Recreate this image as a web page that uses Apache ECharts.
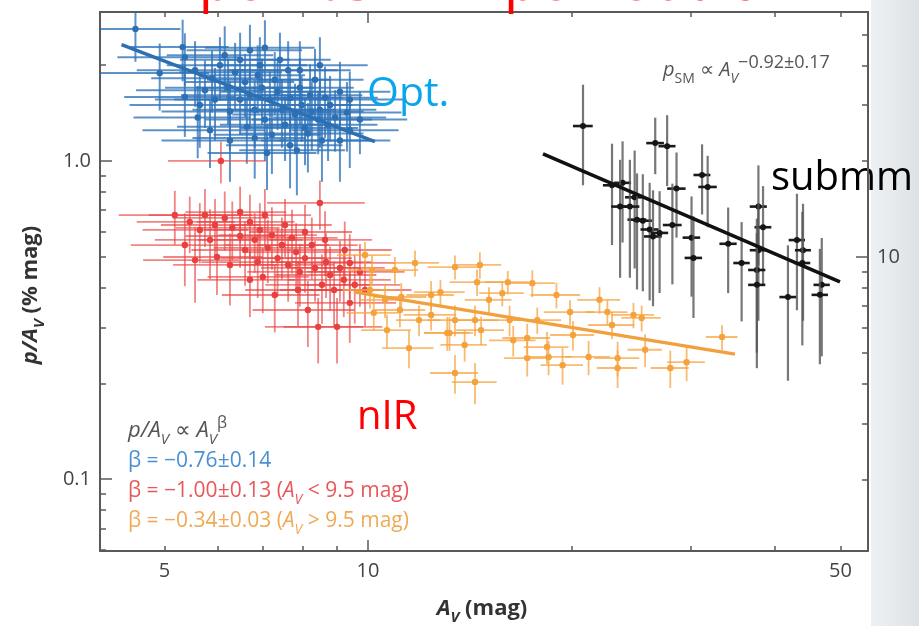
<!DOCTYPE html>
<html><head><meta charset="utf-8">
<script src="https://cdn.jsdelivr.net/npm/echarts@6/dist/echarts.min.js"></script>
<style>html,body{margin:0;padding:0;background:#fff}#c{width:919px;height:626px}</style>
</head><body><div id="c"></div>
<script>
// ---- axis ticks / labels ----
const xMajorTicks = [10];
const xMinorTicks = [5, 6, 7, 8, 9, 20, 30, 40, 50];
const xTickLabels = [5, 10, 50];
const yMajorTicks = [0.1, 1];
const yMinorTicks = [0.06, 0.07, 0.08, 0.09, 0.2, 0.3, 0.4, 0.5, 0.6, 0.7, 0.8, 0.9, 2];
const yTickLabels = [0.1, 1];
const y2MajorTicks = [10];
const y2MinorTicks = [2, 3, 4, 5, 6, 7, 8, 9, 20, 30, 40, 50];
const y2TickLabels = [10];

// ---- data: [A_V, value, errA_V, errValue] ----
const optPoints = [
[4.53,2.60,0.75,0.55],[5.32,2.28,0.9,0.5],[5.36,2.12,1.1,0.4],[4.92,1.89,0.9,0.45],[5.36,1.59,1.0,0.4],
[5.60,1.37,1.1,0.35],[5.88,1.82,1.1,0.4],[6.04,2.00,1.0,0.45],[6.21,1.70,1.2,0.4],[6.36,1.90,1.1,0.45],
[6.47,1.56,1.3,0.35],[6.58,1.77,1.2,0.4],[6.69,1.61,1.4,0.35],[6.80,1.45,1.3,0.35],[6.87,1.86,1.2,0.45],
[6.97,1.70,1.4,0.4],[7.04,1.35,1.3,0.35],[7.16,1.56,1.4,0.35],[7.21,1.21,1.3,0.3],[7.28,1.80,1.5,0.4],
[7.35,1.65,1.3,0.4],[7.46,1.45,1.5,0.35],[7.54,1.30,1.5,0.3],[7.62,1.93,1.4,0.45],[7.67,1.58,1.5,0.35],
[7.80,1.40,1.5,0.35],[7.85,1.08,1.4,0.3],[7.93,1.70,1.6,0.4],[7.98,1.50,1.5,0.35],[8.07,1.27,1.6,0.3],
[8.15,1.22,1.7,0.3],[8.21,1.61,1.6,0.4],[8.26,1.43,1.6,0.35],[8.35,1.80,1.5,0.45],[8.44,1.35,1.7,0.3],
[8.49,1.45,1.8,0.35],[8.55,1.16,1.6,0.3],[8.64,1.58,1.7,0.4],[8.73,1.30,1.6,0.3],[8.79,1.50,1.8,0.35],
[8.94,1.37,1.7,0.3],[9.09,1.65,1.7,0.4],[9.31,1.42,1.9,0.35],[9.40,1.25,1.7,0.3],[6.62,1.28,1.4,0.3],
[7.09,1.06,1.3,0.25],[6.80,1.18,1.3,0.3],[6.25,1.43,1.3,0.35],[5.94,1.56,1.1,0.4],[5.74,1.67,1.2,0.4],
[5.55,1.93,1.0,0.45],[6.14,2.15,1.1,0.5],[6.47,2.08,1.2,0.45],[5.64,1.50,1.2,0.4],[5.84,1.25,1.2,0.3],
[7.41,2.08,1.4,0.45],[7.93,1.93,1.5,0.45],[6.92,2.00,1.2,0.45],[9.09,1.16,1.7,0.3],[7.67,1.12,1.5,0.3],
[9.40,1.56,1.9,0.35],[9.73,1.35,1.7,0.3],[6.25,1.16,1.3,0.3],[7.04,2.27,1.3,0.5],[6.69,2.23,1.3,0.45],
[8.49,2.00,1.5,0.45]
];
const nirLowPoints = [
[6.06,1.0,1.0,0.15],[8.49,0.738,1.4,0.13],[5.18,0.676,0.9,0.13],[5.45,0.643,0.9,0.13],[5.64,0.607,1.0,0.13],
[5.84,0.565,1.0,0.14],[5.98,0.499,1.0,0.12],[6.14,0.662,1.0,0.14],[6.30,0.616,1.1,0.13],[6.47,0.581,1.1,0.12],
[6.58,0.525,1.1,0.12],[6.69,0.643,1.1,0.14],[6.80,0.565,1.2,0.12],[6.92,0.607,1.2,0.13],[6.99,0.432,1.2,0.1],
[7.11,0.533,1.2,0.12],[7.21,0.585,1.2,0.13],[7.35,0.495,1.3,0.12],[7.46,0.544,1.3,0.12],[7.62,0.471,1.3,0.11],
[7.72,0.573,1.3,0.13],[7.83,0.517,1.3,0.12],[7.93,0.448,1.3,0.1],[8.07,0.495,1.4,0.11],[8.15,0.340,1.4,0.08],
[8.26,0.544,1.4,0.12],[8.35,0.461,1.4,0.1],[8.44,0.301,1.4,0.07],[8.55,0.408,1.5,0.1],[8.67,0.481,1.5,0.11],
[8.79,0.438,1.5,0.1],[8.91,0.393,1.5,0.09],[9.0,0.301,1.5,0.07],[9.09,0.461,1.5,0.1],[9.21,0.423,1.6,0.1],
[9.40,0.358,1.6,0.09],[9.40,0.478,1.6,0.11],[9.56,0.408,1.6,0.1],[9.73,0.448,1.6,0.1],[5.36,0.544,0.9,0.14],
[5.55,0.488,0.9,0.13],[5.74,0.676,1.0,0.14],[6.25,0.471,1.1,0.12],[6.69,0.423,1.1,0.1],[7.04,0.676,1.2,0.14],
[7.54,0.629,1.3,0.13],[7.88,0.393,1.3,0.09],[8.64,0.565,1.5,0.13],[6.47,0.691,1.1,0.14],[7.28,0.379,1.2,0.09],
[5.94,0.629,1.0,0.13],[9.24,0.525,1.6,0.12],[9.90,0.393,1.7,0.09],[8.07,0.598,1.4,0.13],[6.87,0.481,1.2,0.11]
];
const nirHighPoints = [
[11.74,0.478,1.0,0.045],[13.45,0.464,1.2,0.04],[14.64,0.471,1.1,0.045],[14.5,0.416,1.3,0.04],[16.1,0.416,1.2,0.035],
[17.5,0.413,1.4,0.04],[12.8,0.387,1.1,0.035],[15.8,0.384,1.2,0.035],[19.0,0.379,1.6,0.035],[10.14,0.454,0.8,0.05],
[10.07,0.393,0.9,0.05],[11.2,0.3735,1.0,0.04],[12.4,0.379,1.0,0.04],[10.2,0.333,0.9,0.04],[11.15,0.340,1.0,0.04],
[11.9,0.316,0.9,0.035],[12.4,0.328,1.1,0.035],[13.45,0.316,1.2,0.035],[14.4,0.316,1.2,0.035],[16.2,0.316,1.4,0.035],
[17.8,0.316,1.5,0.03],[19.9,0.335,1.7,0.03],[22.6,0.335,1.6,0.03],[24.7,0.328,1.8,0.03],[25.4,0.321,1.7,0.03],
[10.67,0.294,0.9,0.035],[13.2,0.288,1.1,0.035],[14.7,0.294,1.2,0.03],[16.4,0.273,1.3,0.03],[17.2,0.2776,1.4,0.03],
[20.1,0.2837,1.5,0.03],[22.96,0.305,1.8,0.03],[13.9,0.264,1.1,0.03],[11.5,0.258,1.0,0.035],[18.4,0.260,1.4,0.03],
[17.2,0.240,1.3,0.03],[18.5,0.242,1.5,0.03],[21.2,0.242,1.6,0.03],[23.4,0.240,1.8,0.03],[25.7,0.255,1.5,0.03],
[19.4,0.228,1.4,0.03],[23.4,0.2234,1.6,0.03],[28.0,0.2234,1.8,0.03],[29.6,0.233,1.9,0.03],[33.4,0.2796,1.8,0.025],
[13.45,0.2155,1.1,0.03],[14.4,0.2018,1.1,0.03],[13.1,0.288,1.0,0.035],[9.9,0.506,0.9,0.05],[10.6,0.366,0.9,0.045],
[10.96,0.454,0.9,0.045],[15.1,0.366,1.2,0.035],[22.0,0.366,1.6,0.035]
];
const submmPoints = [
[20.8,25.8,0.7,9],[26.6,22.8,0.8,4.6],[27.7,22.3,0.8,5.6],[28.6,16.4,0.9,4.9],[31.2,18.1,0.9,4.5],
[31.8,16.6,1.0,4.2],[22.96,16.8,0.7,5.9],[23.8,17.1,0.7,6.0],[23.6,14.4,0.7,5.8],[24.8,15.4,0.8,6.2],
[25.0,13.1,0.8,5.2],[25.5,13.0,0.8,5.2],[26.1,12.2,0.8,4.9],[26.4,11.6,0.8,4.6],[27.0,11.9,0.8,4.2],
[28.2,12.6,0.9,4.4],[30.1,11.5,0.9,4.0],[30.3,9.93,0.9,3.5],[34.1,11.0,1.0,3.3],[35.7,9.57,1.0,3.3],
[37.8,14.4,1.1,5.0],[38.4,12.4,1.1,4.3],[37.8,10.5,1.1,4.2],[37.6,9.1,1.1,4.1],[37.6,8.17,1.1,3.7],
[41.8,7.48,1.2,3.4],[43.1,11.3,1.2,4.5],[44.0,10.5,1.2,4.2],[43.9,9.57,1.2,4.3],[46.9,8.17,1.3,3.3],
[46.6,7.6,1.3,3.0],[24.4,14.4,0.8,5.8]
];
const optFit = [[4.32, 2.32], [10.24, 1.15]];
const nirFit = [[9.57, 0.387], [34.9, 0.247]];
const submmFit = [[18.15, 21.1], [49.9, 8.35]];

const X_MIN = 4.015, X_MAX = 54.9, Y_MIN = 0.0594, Y_MAX = 2.94, Y2_MIN = 1.19, Y2_MAX = 58.9;
const AXIS_COL = '#5a5a5a';
const FONT = '"Open Sans", "Liberation Sans", sans-serif';
const GRID = { left: 100, top: 12, right: 51, bottom: 75 };

function errRender(pointColor, hColor, vColor, r, hw, vw) {
  return function (params, api) {
    const A = api.value(0), p = api.value(1), dA = api.value(2), dp = api.value(3);
    const c = api.coord([A, p]);
    const l = api.coord([Math.max(A - dA, 0.01), p]);
    const rr = api.coord([A + dA, p]);
    const t = api.coord([A, p + dp]);
    const b = api.coord([A, Math.max(p - dp, 0.001)]);
    return { type: 'group', children: [
      { type: 'line', shape: { x1: c[0], y1: t[1], x2: c[0], y2: b[1] }, style: { stroke: vColor, lineWidth: vw } },
      { type: 'line', shape: { x1: l[0], y1: c[1], x2: rr[0], y2: c[1] }, style: { stroke: hColor, lineWidth: hw } },
      { type: 'circle', shape: { cx: c[0], cy: c[1], r: r }, style: { fill: pointColor } }
    ] };
  };
}

function xAx(pos, ticks, len, showLine, labels) {
  return { type: 'log', logBase: 10, min: X_MIN, max: X_MAX, position: pos, z: 20,
    axisLine: { show: showLine, onZero: false, lineStyle: { color: AXIS_COL, width: 2 } },
    splitLine: { show: false }, minorTick: { show: false },
    axisTick: { show: true, inside: true, length: len, customValues: ticks, lineStyle: { color: AXIS_COL, width: 1.5 } },
    axisLabel: labels ? { show: true, customValues: labels, margin: 10, color: '#444', fontSize: 20, fontFamily: FONT, formatter: v => String(Math.round(v)) } : { show: false }
  };
}
function yAx(pos, min, max, ticks, len, showLine, labels, fmt) {
  return { type: 'log', logBase: 10, min: min, max: max, position: pos, z: 20,
    axisLine: { show: showLine, onZero: false, lineStyle: { color: AXIS_COL, width: 2 } },
    splitLine: { show: false }, minorTick: { show: false },
    axisTick: { show: true, inside: true, length: len, customValues: ticks, lineStyle: { color: AXIS_COL, width: 1.5 } },
    axisLabel: labels ? { show: true, customValues: labels, margin: 9, color: '#444', fontSize: 20, fontFamily: FONT, formatter: fmt } : { show: false }
  };
}

function richSet(col, size, bold, subItalic) {
  return {
    i: { fontSize: size, fontStyle: 'italic', fontWeight: bold ? 'bold' : 'normal', fontFamily: FONT, lineHeight: 32, fill: col },
    n: { fontSize: size, fontWeight: bold ? 'bold' : 'normal', fontFamily: FONT, lineHeight: 32, fill: col },
    sb: { fontSize: Math.round(size * 0.68), fontStyle: subItalic === false ? 'normal' : 'italic', fontWeight: bold ? 'bold' : 'normal', fontFamily: FONT, lineHeight: 14, verticalAlign: 'bottom', fill: col },
    sv: { fontSize: Math.round(size * 0.68), fontStyle: 'italic', fontWeight: bold ? 'bold' : 'normal', fontFamily: FONT, lineHeight: 14, verticalAlign: 'bottom', fill: col },
    sp: { fontSize: Math.round(size * 0.72), fontFamily: FONT, lineHeight: 14, verticalAlign: 'top', fill: col }
  };
}
function T(x, y, text, rich, align, extra) {
  return Object.assign({ type: 'text', x: x, y: y, z: 50, style: { text: text, rich: rich, align: align || 'left', verticalAlign: 'middle', textAlign: align || 'left', textVerticalAlign: 'middle' } }, extra || {});
}
function P(x, y, text, col, size) {
  return { type: 'text', x: x, y: y, z: 50, style: { text: text, fill: col, font: size + 'px ' + FONT, align: 'left', verticalAlign: 'middle', textAlign: 'left', textVerticalAlign: 'middle' } };
}

const chart = echarts.init(document.getElementById('c'));
const smRich = richSet('#555', 20, false, false);
smRich.sp = { fontSize: 18, fontFamily: FONT, lineHeight: 18, verticalAlign: 'top', fill: '#555' };
const titleRich = { t: { fontSize: 56, lineHeight: 56, fontFamily: FONT, fill: '#ff0000' } };
const W = 919, H = 626;
const frameRight = W - GRID.right, frameTop = GRID.top, frameBottom = H - GRID.bottom;

chart.setOption({
  animation: false,
  backgroundColor: '#fff',
  grid: Object.assign({ containLabel: false, outerBoundsMode: 'none' }, GRID),
  xAxis: [
    xAx('bottom', xMajorTicks, 11, true, xTickLabels),
    xAx('bottom', xMinorTicks, 5, false, null),
    xAx('top', xMajorTicks, 11, true, null),
    xAx('top', xMinorTicks, 5, false, null)
  ],
  yAxis: [
    yAx('left', Y_MIN, Y_MAX, yMajorTicks, 12, true, yTickLabels, v => (v >= 0.99 ? '1.0' : '0.1')),
    yAx('right', Y2_MIN, Y2_MAX, y2MajorTicks, 12, true, y2TickLabels, v => String(Math.round(v))),
    yAx('left', Y_MIN, Y_MAX, yMinorTicks, 6, false, null),
    yAx('right', Y2_MIN, Y2_MAX, y2MinorTicks, 6, false, null)
  ],
  graphic: [
    { type: 'rect', z: -10, silent: true, shape: { x: frameRight + 3, y: 0, width: W - frameRight - 3, height: H },
      style: { fill: new echarts.graphic.LinearGradient(0, 0, 1, 0, [{ offset: 0, color: '#eef1f3' }, { offset: 1, color: '#dde2e6' }]) } },
    { type: 'line', z: 60, silent: true, shape: { x1: frameRight, y1: frameTop, x2: frameRight, y2: frameBottom },
      style: { stroke: AXIS_COL, lineWidth: 2 } },
    T(151, -16, '{t|Pipe-109 in Pipe nebula - NIR}', titleRich),
    P(367, 94, 'Opt.', '#0aa6ec', 41),
    P(771, 179, 'submm', '#000', 40),
    P(357, 418, 'nIR', '#ff0000', 40),
    T(663, 70, '{i|p}{sb|SM}{n| ∝ }{i|A}{sv|V}{sp|−0.92±0.17}', smRich),
    T(128, 431, '{i|p/A}{sb|V}{n| ∝ }{i|A}{sb|V}{sp|β}', richSet('#555', 22, false)),
    P(128, 461, 'β = −0.76±0.14', '#4a8fd2', 21),
    T(128, 491, '{n|β = −1.00±0.13 (}{i|A}{sb|V}{n| < 9.5 mag)}', richSet('#e8575a', 21, false)),
    T(128, 521, '{n|β = −0.34±0.03 (}{i|A}{sb|V}{n| > 9.5 mag)}', richSet('#f0aa55', 21, false)),
    T(482, 609, '{i|A}{sb|V}{n| (mag)}', richSet('#333', 22, true), 'center'),
    T(31, 295, '{i|p/A}{sb|V}{n| (% mag)}', richSet('#333', 22, true), 'center', { rotation: Math.PI / 2 })
  ],
  series: [
    { type: 'custom', name: 'Opt', xAxisIndex: 0, yAxisIndex: 0, clip: true, data: optPoints,
      encode: { x: 0, y: 1 }, renderItem: errRender('#2c6fb3', 'rgba(48,115,185,0.78)', 'rgba(48,115,185,0.78)', 3.2, 2, 2), z: 2 },
    { type: 'line', name: 'OptFit', xAxisIndex: 0, yAxisIndex: 0, data: optFit, showSymbol: false,
      lineStyle: { color: '#2c6fb3', width: 3.5 }, z: 3 },
    { type: 'custom', name: 'nIR low', xAxisIndex: 0, yAxisIndex: 0, clip: true, data: nirLowPoints,
      encode: { x: 0, y: 1 }, renderItem: errRender('#e8403f', 'rgba(232,68,66,0.65)', 'rgba(232,68,66,0.65)', 3.2, 1.8, 1.8), z: 4 },
    { type: 'custom', name: 'nIR high', xAxisIndex: 0, yAxisIndex: 0, clip: true, data: nirHighPoints,
      encode: { x: 0, y: 1 }, renderItem: errRender('#f6a23c', 'rgba(246,164,66,0.75)', 'rgba(246,164,66,0.75)', 3.2, 1.8, 1.8), z: 5 },
    { type: 'line', name: 'nIRFit', xAxisIndex: 0, yAxisIndex: 0, data: nirFit, showSymbol: false,
      lineStyle: { color: '#f2a03c', width: 3.5 }, z: 6 },
    { type: 'custom', name: 'submm', xAxisIndex: 0, yAxisIndex: 1, clip: true, data: submmPoints,
      encode: { x: 0, y: 1 }, renderItem: errRender('#151515', '#1a1a1a', 'rgba(85,85,85,0.8)', 3, 2.6, 2.2), z: 7 },
    { type: 'line', name: 'submmFit', xAxisIndex: 0, yAxisIndex: 1, data: submmFit, showSymbol: false,
      lineStyle: { color: '#111', width: 3.5 }, z: 8 }
  ]
});
</script></body></html>
